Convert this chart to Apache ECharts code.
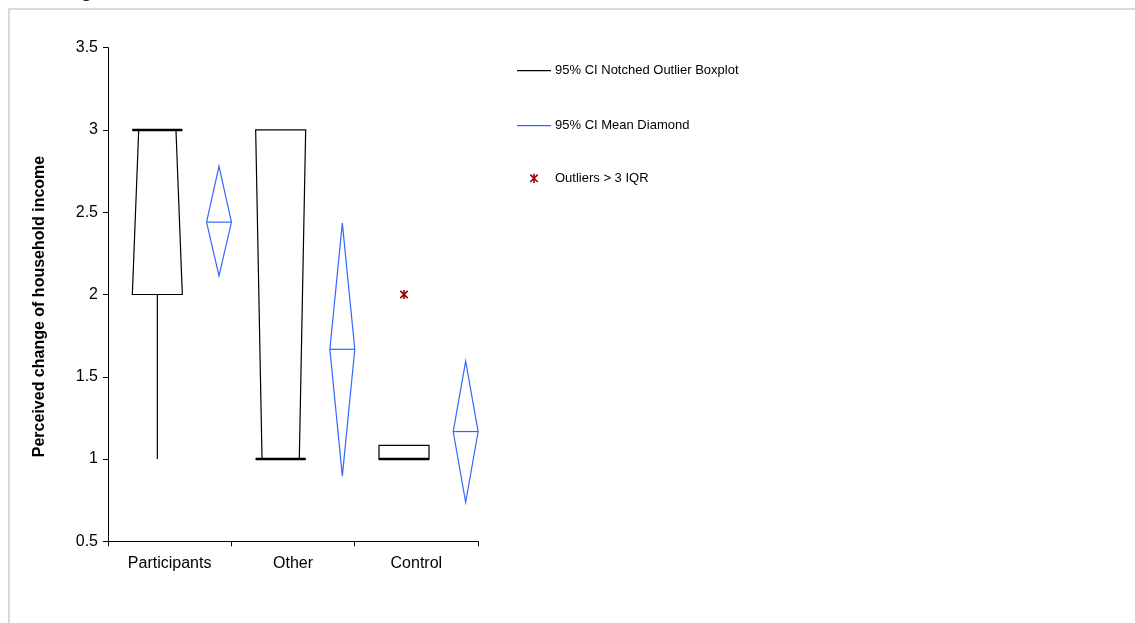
<!DOCTYPE html>
<html><head><meta charset="utf-8">
<script src="https://cdn.jsdelivr.net/npm/echarts@6/dist/echarts.min.js"></script>
<style>html,body{margin:0;padding:0;background:#fff}#c{width:1135px;height:623px}</style>
</head><body><div id="c"></div>
<script>
// ---- data ----
const categories = ['Participants', 'Other', 'Control'];
const q1 = [2, 1, 1];
const medians = [3, 1, 1];
const q3 = [3, 3, 1.083];
const notchLow = [2, 1, 1];
const notchHigh = [3, 3, 1];
const whiskerLow = [1, 1, 1];
const whiskerHigh = [3, 3, 1.083];
const means = [2.44, 1.667, 1.167];
const ciLow = [2.113, 0.896, 0.737];
const ciHigh = [2.779, 2.434, 1.595];
const outlierCats = ['Control'];
const outlierVals = [2];
const legendNames = ['95% CI Notched Outlier Boxplot', '95% CI Mean Diamond', 'Outliers > 3 IQR'];
const yAxisTitle = 'Perceived change of household income';
const yMin = 0.5, yMax = 3.5, yInterval = 0.5;

// ---- styles ----
const FONT = 'Arial, "Liberation Sans", sans-serif';
const BOX_COLOR = '#000000';
const DIAMOND_COLOR = '#3366FF';
const OUTLIER_COLOR = '#990000';

const boxData = categories.map((c, i) => [i, q1[i], medians[i], q3[i], notchLow[i], notchHigh[i], whiskerLow[i], whiskerHigh[i]]);
const diamondData = categories.map((c, i) => [i, means[i], ciLow[i], ciHigh[i]]);
const outlierData = outlierCats.map((c, k) => [categories.indexOf(c), outlierVals[k]]);

function asteriskShapes(x, y, r, color, lw) {
  const d = r * 0.8;
  return [
    {type: 'line', shape: {x1: x, y1: y - r, x2: x, y2: y + r}, style: {stroke: color, lineWidth: lw}},
    {type: 'line', shape: {x1: x - d, y1: y - d, x2: x + d, y2: y + d}, style: {stroke: color, lineWidth: lw}},
    {type: 'line', shape: {x1: x - d, y1: y + d, x2: x + d, y2: y - d}, style: {stroke: color, lineWidth: lw}}
  ];
}

function renderBox(params, api) {
  const idx = api.value(0);
  const vq1 = api.value(1), vmed = api.value(2), vq3 = api.value(3);
  const nl = api.value(4), nh = api.value(5), wl = api.value(6), wh = api.value(7);
  const bw = api.size([1, 0])[0];
  const cx = api.coord([idx, vmed])[0] - 0.1 * bw;
  const hw = 0.2027 * bw;
  const ind = (nh - nl) > 0 ? hw * 0.255 : 0;
  const Y = v => api.coord([idx, v])[1];
  const L = cx - hw, R = cx + hw;
  const left = [[L, Y(vq1)]];
  if (nl > vq1) left.push([L, Y(nl)]);
  left.push([L + ind, Y(vmed)]);
  if (nh < vq3) left.push([L, Y(nh)]);
  left.push([L, Y(vq3)]);
  const right = left.map(p => [2 * cx - p[0], p[1]]).reverse();
  const children = [
    {type: 'polygon', shape: {points: left.concat(right)}, style: {fill: 'none', stroke: BOX_COLOR, lineWidth: 1.2}},
    {type: 'line', shape: {x1: L, y1: Y(vmed), x2: R, y2: Y(vmed)}, style: {stroke: BOX_COLOR, lineWidth: 2.4}}
  ];
  if (wl < vq1) children.push({type: 'line', shape: {x1: cx, y1: Y(vq1), x2: cx, y2: Y(wl)}, style: {stroke: BOX_COLOR, lineWidth: 1.2}});
  if (wh > vq3) children.push({type: 'line', shape: {x1: cx, y1: Y(vq3), x2: cx, y2: Y(wh)}, style: {stroke: BOX_COLOR, lineWidth: 1.2}});
  return {type: 'group', children};
}

function renderDiamond(params, api) {
  const idx = api.value(0);
  const m = api.value(1), lo = api.value(2), hi = api.value(3);
  const bw = api.size([1, 0])[0];
  const cx = api.coord([idx, m])[0] + 0.4 * bw;
  const hw = 0.101 * bw;
  const ym = api.coord([idx, m])[1], yl = api.coord([idx, lo])[1], yh = api.coord([idx, hi])[1];
  return {type: 'group', children: [
    {type: 'polygon', shape: {points: [[cx - hw, ym], [cx, yh], [cx + hw, ym], [cx, yl]]}, style: {fill: 'none', stroke: DIAMOND_COLOR, lineWidth: 1.2}},
    {type: 'line', shape: {x1: cx - hw, y1: ym, x2: cx + hw, y2: ym}, style: {stroke: DIAMOND_COLOR, lineWidth: 1.2}}
  ]};
}

function renderOutlier(params, api) {
  const bw = api.size([1, 0])[0];
  const p = api.coord([api.value(0), api.value(1)]);
  return {type: 'group', children: asteriskShapes(p[0] - 0.1 * bw, p[1], 4.6, OUTLIER_COLOR, 1.6)};
}

const LX = 517, LW = 34, LTX = 555;
const LY = [70.7, 125.7, 178.3];

const chart = echarts.init(document.getElementById('c'), null, {renderer: 'canvas'});
chart.setOption({
  animation: false,
  backgroundColor: '#ffffff',
  textStyle: {fontFamily: FONT},
  grid: {left: 108, right: 657, top: 47.7, bottom: 81.7, containLabel: false},
  xAxis: {
    type: 'category',
    data: categories,
    boundaryGap: true,
    axisLine: {lineStyle: {color: '#000', width: 1}},
    axisTick: {show: true, length: 5, alignWithLabel: false, lineStyle: {color: '#000'}},
    axisLabel: {color: '#000', fontSize: 16, fontFamily: FONT, margin: 14},
    splitLine: {show: false}
  },
  yAxis: {
    type: 'value',
    min: yMin, max: yMax, interval: yInterval,
    name: yAxisTitle,
    nameLocation: 'middle',
    nameRotate: 90,
    nameGap: 60,
    nameTextStyle: {color: '#000', fontSize: 16, fontWeight: 'bold', fontFamily: FONT, padding: [0, 24, 0, 0]},
    axisLine: {show: true, lineStyle: {color: '#000', width: 1}},
    axisTick: {show: true, length: 5, lineStyle: {color: '#000'}},
    axisLabel: {color: '#000', fontSize: 16, fontFamily: FONT, margin: 10},
    splitLine: {show: false}
  },
  series: [
    {name: legendNames[0], type: 'custom', renderItem: renderBox, data: boxData,
     encode: {x: 0, y: [1, 2, 3, 4, 5, 6, 7]}, clip: false},
    {name: legendNames[1], type: 'custom', renderItem: renderDiamond, data: diamondData,
     encode: {x: 0, y: [1, 2, 3]}, clip: false},
    {name: legendNames[2], type: 'custom', renderItem: renderOutlier, data: outlierData,
     encode: {x: 0, y: 1}, clip: false}
  ],
  graphic: [
    {type: 'rect', z: -10, silent: true, shape: {x: 9, y: 9, width: 1300, height: 800},
     style: {fill: 'none', stroke: '#d9d9d9', lineWidth: 2}},
    {type: 'text', x: 80, y: -22.5, silent: true,
     style: {text: 'g', font: '24px ' + FONT, fill: '#000', verticalAlign: 'top'}},
    {type: 'line', shape: {x1: LX, y1: LY[0], x2: LX + LW, y2: LY[0]}, style: {stroke: BOX_COLOR, lineWidth: 1.2}},
    {type: 'text', x: LTX, y: LY[0], style: {text: legendNames[0], font: '13px ' + FONT, fill: '#000', verticalAlign: 'middle'}},
    {type: 'line', shape: {x1: LX, y1: LY[1], x2: LX + LW, y2: LY[1]}, style: {stroke: DIAMOND_COLOR, lineWidth: 1.2}},
    {type: 'text', x: LTX, y: LY[1], style: {text: legendNames[1], font: '13px ' + FONT, fill: '#000', verticalAlign: 'middle'}},
    {type: 'group', children: asteriskShapes(LX + LW / 2, LY[2], 4.6, OUTLIER_COLOR, 1.6)},
    {type: 'text', x: LTX, y: LY[2], style: {text: legendNames[2], font: '13px ' + FONT, fill: '#000', verticalAlign: 'middle'}}
  ]
});
</script>
</body></html>
